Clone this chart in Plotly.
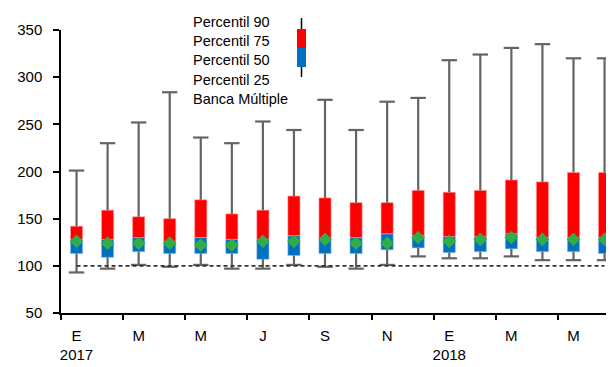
import plotly.graph_objects as go

# Data (Jan 2017 - Jun 2018)
months = list(range(18))
p10 = [93, 97, 101, 99, 101, 97, 97, 101, 99, 97, 101, 110, 108, 108, 110, 106, 106, 106]
p25 = [113, 109, 115, 113, 113, 113, 107, 111, 113, 113, 117, 119, 114, 115, 118, 115, 115, 113]
p50 = [128, 128, 130, 126, 130, 128, 128, 132, 128, 130, 134, 132, 131, 131, 134, 130, 130, 130]
p75 = [142, 159, 152, 150, 170, 155, 159, 174, 172, 167, 167, 180, 178, 180, 191, 189, 199, 199]
p90 = [201, 230, 252, 284, 236, 230, 253, 244, 276, 244, 274, 278, 318, 324, 331, 335, 320, 320]
banca = [126, 124, 124, 124, 122, 122, 126, 126, 128, 124, 124, 130, 126, 128, 130, 128, 128, 128]
reference = [100] * 18

tick_pos = [0, 2, 4, 6, 8, 10, 12, 14, 16]
tick_text = ["E<br>2017", "M", "M", "J", "S", "N", "E<br>2018", "M", "M"]
legend_labels = ["Percentil 90", "Percentil 75", "Percentil 50", "Percentil 25", "Banca Múltiple"]

FONT = "Liberation Sans"
OFF = 8  # page body margin
W, H = 614 - OFF, 367 - OFF
ML, MR, MT, MB = 61 - OFF, 0, 30 - OFF, 54
PW, PH = W - ML - MR, H - MT - MB
CAT_PX = 31.06
x_max = -0.5 + PW / CAT_PX

fig = go.Figure()

# Whisker segments
wx, wy = [], []
for i in months:
    wx += [i, i, None, i, i, None]
    wy += [p75[i], p90[i], None, p25[i], p10[i], None]
fig.add_trace(go.Scatter(x=wx, y=wy, mode="lines",
                         line=dict(color="#646464", width=2.2),
                         hoverinfo="skip", showlegend=False))
# Caps
fig.add_trace(go.Scatter(x=months + months, y=p90 + p10, mode="markers",
                         marker=dict(symbol="line-ew", size=11,
                                     line=dict(color="#646464", width=2.2)),
                         hoverinfo="skip", showlegend=False))

# Boxes
fig.add_trace(go.Bar(x=months, y=[b - a for a, b in zip(p25, p50)], base=p25,
                     width=0.39, marker=dict(color="#0070C0", line=dict(width=0.6, color="#8fb8e0")),
                     showlegend=False))
fig.add_trace(go.Bar(x=months, y=[b - a for a, b in zip(p50, p75)], base=p50,
                     width=0.39, marker=dict(color="#FF0000", line=dict(width=0.6, color="#ff9a9a")),
                     showlegend=False))

# Reference line at 100
fig.add_trace(go.Scatter(x=months, y=reference, mode="lines",
                         line=dict(color="#333333", width=1.7, dash="4px,3px"),
                         hoverinfo="skip", showlegend=False))

# Banca Múltiple
fig.add_trace(go.Scatter(x=months, y=banca, mode="markers",
                         marker=dict(symbol="diamond", size=10.5, color="#31AC4B",
                                     line=dict(width=0)),
                         showlegend=False))

# Legend (drawn manually, Excel style); screen-pixel positions converted to paper
def px2paper_x(px):
    return (px - OFF - ML) / PW

def px2paper_y(py):
    return (H - MB - (py - OFF)) / PH

for lbl, py in zip(legend_labels, [22, 41, 60, 80, 99]):
    fig.add_annotation(x=px2paper_x(193), y=px2paper_y(py), xref="paper", yref="paper",
                       text=lbl, showarrow=False, xanchor="left", yanchor="middle",
                       xshift=-2, font=dict(family=FONT, size=14.5, color="#000000"))

fig.add_shape(type="line", xref="paper", yref="paper",
              x0=px2paper_x(301.5), x1=px2paper_x(301.5),
              y0=px2paper_y(18), y1=px2paper_y(77),
              line=dict(color="#000000", width=1.5))
fig.add_shape(type="rect", xref="paper", yref="paper",
              x0=px2paper_x(297), x1=px2paper_x(306),
              y0=px2paper_y(29), y1=px2paper_y(48),
              fillcolor="#FF0000", line=dict(width=0))
fig.add_shape(type="rect", xref="paper", yref="paper",
              x0=px2paper_x(297), x1=px2paper_x(306),
              y0=px2paper_y(48), y1=px2paper_y(67),
              fillcolor="#0070C0", line=dict(width=0))

fig.update_layout(
    width=W, height=H,
    margin=dict(l=ML, r=MR, t=MT, b=MB, pad=0),
    paper_bgcolor="white", plot_bgcolor="white",
    barmode="overlay",
    font=dict(family=FONT, size=15, color="#000000"),
    xaxis=dict(range=[-0.5, x_max], tickmode="array", tickvals=tick_pos, ticktext=tick_text,
               ticks="", showgrid=False, zeroline=False,
               showline=True, linecolor="#000000", linewidth=1.5,
               ticklabelstandoff=8,
               minor=dict(ticks="outside", tick0=-0.5, dtick=2, ticklen=5,
                          tickwidth=1.5, tickcolor="#000000", showgrid=False),
               tickfont=dict(family=FONT, size=15)),
    yaxis=dict(range=[50, 350], tickvals=[50, 100, 150, 200, 250, 300, 350],
               ticks="outside", ticklen=6, tickwidth=1.5, tickcolor="#000000",
               showgrid=False, zeroline=False,
               showline=True, linecolor="#000000", linewidth=1.5,
               ticklabelstandoff=8,
               tickfont=dict(family=FONT, size=15)),
)

fig.write_html("out.html")
